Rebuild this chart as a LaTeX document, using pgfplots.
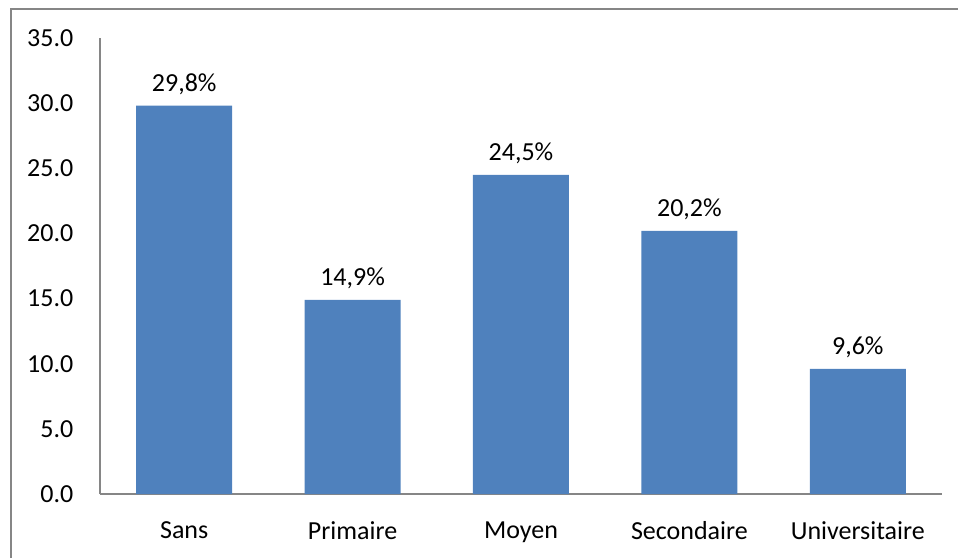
\documentclass[border=0pt]{standalone}
\usepackage{pgfplots}
\pgfplotsset{compat=1.18}
\usepackage{fontspec}
\setmainfont{Carlito}
\definecolor{barblue}{HTML}{4F81BD}
\definecolor{axgray}{HTML}{868686}
\begin{document}
\begin{tikzpicture}
\useasboundingbox (0,0) rectangle (718.5pt,418.5pt);
\draw[axgray, line width=1.5pt] (8pt,0) -- (8pt,411.75pt) -- (718.5pt,411.75pt);
\begin{axis}[
  at={(75pt,48pt)}, anchor=south west,
  scale only axis, width=631.5pt, height=342pt,
  ymin=0, ymax=35, xmin=-0.5, xmax=4.5,
  ytick={0,5,...,35},
  xtick=data,
  xticklabels={Sans,Primaire,Moyen,Secondaire,Universitaire},
  major tick length=0pt,
  axis x line*=bottom, axis y line*=left,
  axis line style={axgray, line width=1.1pt, -},
  /pgf/number format/assume math mode=true,
  yticklabel style={/pgf/number format/.cd, fixed, fixed zerofill, precision=1, /tikz/.cd, font=\fontsize{19.5}{22}\selectfont, xshift=-16.5pt},
  xticklabel style={font=\fontsize{19.5}{22}\selectfont, yshift=-17pt},
  ybar, bar width=72pt,
  nodes near coords={\pgfmathprintnumber[fixed, fixed zerofill, precision=1, use comma, assume math mode=true]{\pgfplotspointmeta}\%},
  nodes near coords style={font=\fontsize{19.5}{22}\selectfont, black, yshift=5pt},
]
\addplot[fill=barblue, draw=none] coordinates {(0,29.8) (1,14.9) (2,24.5) (3,20.2) (4,9.6)};
\end{axis}
\end{tikzpicture}
\end{document}
